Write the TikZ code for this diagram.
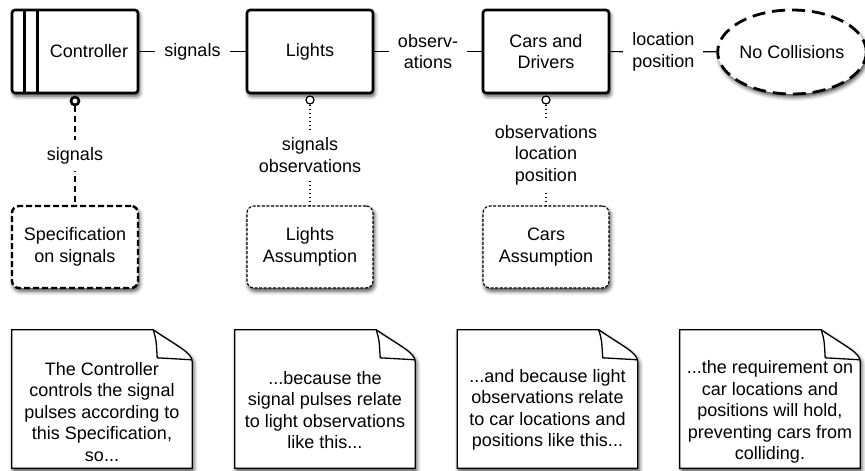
\documentclass[tikz,border=0pt]{standalone}
\usepackage{fontspec}
\setmainfont{Liberation Sans}
\usetikzlibrary{shapes.geometric,shadows.blur}

\begin{document}
\begin{tikzpicture}[x=1pt,y=-1pt,
  every node/.style={font=\fontsize{18}{21.5}\selectfont, align=center, text=black},
  softshadow/.style={blur shadow={shadow xshift=1.5pt,shadow yshift=-3pt,shadow blur radius=4pt,shadow opacity=75}},
  domainbox/.style={draw=black, line width=2.6pt, rounded corners=3pt,
    minimum width=126pt, minimum height=83pt, inner sep=0pt, fill=white, softshadow},
  goalshape/.style={ellipse, draw=black, line width=2.8pt, dash pattern=on 13pt off 7pt,
    minimum width=148pt, minimum height=84pt, inner sep=0pt, fill=white, softshadow},
  specshape/.style={draw=black, line width=2.4pt, dash pattern=on 6pt off 3pt, rounded corners=7pt,
    minimum width=126pt, minimum height=82pt, inner sep=0pt, fill=white, softshadow},
  assumeshape/.style={draw=black, line width=1.1pt, dash pattern=on 3pt off 1.6pt, rounded corners=7pt,
    minimum width=126pt, minimum height=82pt, inner sep=0pt, fill=white, softshadow},
  linkline/.style={draw=black, line width=1.2pt},
  linklabel/.style={fill=white, inner xsep=9pt, inner ysep=2pt},
  vlabel/.style={fill=white, inner xsep=2pt, inner ysep=7pt},
  portdot/.style={circle, draw=black, fill=white, minimum size=8pt, inner sep=0pt},
  bigport/.style={portdot, line width=2.6pt},
  smallport/.style={portdot, line width=1.2pt},
  specline/.style={draw=black, line width=2.6pt, dash pattern=on 6pt off 4pt},
  assumeline/.style={draw=black, line width=1.4pt, dash pattern=on 1.6pt off 2.4pt},
  noteframe/.style={minimum width=180pt, minimum height=138pt, inner sep=0pt},
  noteline/.style={draw=black, line width=1.3pt, fill=white, softshadow},
  foldline/.style={draw=black, line width=1.3pt},
]
\useasboundingbox (0,0) rectangle (865,471);

% Domains along the top row
\node[domainbox, label={[xshift=14pt]center:Controller}] (ctrl) at (75,51.5) {};
\draw[line width=2.6pt] ([xshift=14pt]ctrl.north west) -- ([xshift=14pt]ctrl.south west);
\draw[line width=2.6pt] ([xshift=27pt]ctrl.north west) -- ([xshift=27pt]ctrl.south west);
\node[domainbox] (lights) at (310,51.5) {Lights};
\node[domainbox] (cars) at (546,51.5) {Cars and\\Drivers};
\node[goalshape] (goal) at (792,52) {No Collisions};

% Shared phenomena between domains
\draw[linkline] (ctrl) -- node[linklabel] {signals} (lights);
\draw[linkline] (lights) -- node[linklabel] {observ-\\ations} (cars);
\draw[linkline] (cars) -- node[linklabel] {location\\position} (goal);

% Specification and assumptions
\node[specshape] (specbox) at (75,247) {Specification\\on signals};
\node[assumeshape] (lightsas) at (310,247) {Lights\\Assumption};
\node[assumeshape] (carsas) at (546,247) {Cars\\Assumption};

\node[bigport] (p1) at (75,101) {};
\node[smallport] (p2) at (310,100) {};
\node[smallport] (p3) at (546,100) {};

\draw[specline] (p1) -- node[vlabel] {signals} (specbox);
\draw[assumeline] (p2) -- node[vlabel] {signals\\observations} (lightsas);
\draw[assumeline] (p3) -- node[vlabel] {observations\\location\\position} (carsas);

% Explanatory notes with folded corners
\foreach \n/\x in {n1/102, n2/325, n3/547.5, n4/770} {
  \node[noteframe] (\n) at (\x,399) {};
  \draw[noteline] (\n.north west) -- ([xshift=-39pt]\n.north east)
     .. controls +(25,17) and +(0,-9) .. ([yshift=-32pt]\n.north east)
     -- (\n.south east) -- (\n.south west) -- cycle;
  \draw[foldline] ([xshift=-39pt]\n.north east) .. controls +(3,10) .. ([xshift=-35pt,yshift=-28pt]\n.north east)
     -- ([yshift=-30pt]\n.north east);
}
\node at ([yshift=-13pt]n1.center) {The Controller\\controls the signal\\pulses according to\\this Specification,\\so...};
\node at ([yshift=-11pt]n2.center) {...because the\\signal pulses relate\\to light observations\\like this...};
\node at ([yshift=-11pt]n3.center) {...and because light\\observations relate\\to car locations and\\positions like this...};
\node at ([yshift=-13pt]n4.center) {...the requirement on\\car locations and\\positions will hold,\\preventing cars from\\colliding.};
\end{tikzpicture}
\end{document}
